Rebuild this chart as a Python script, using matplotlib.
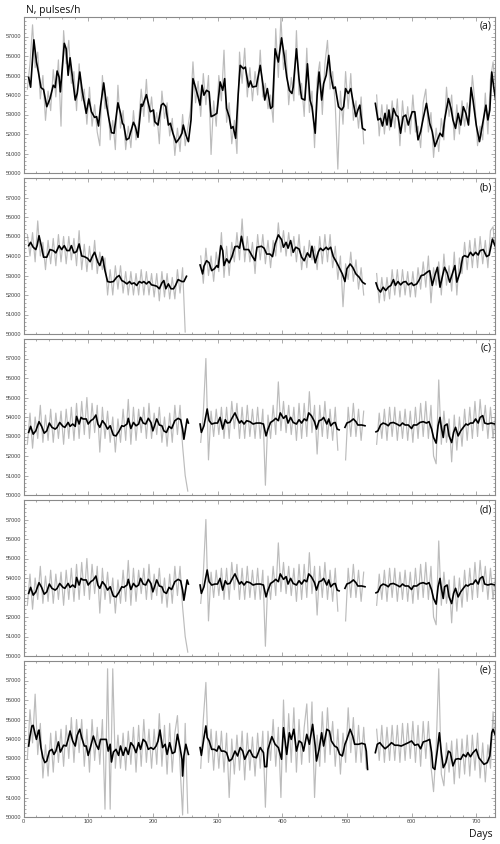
#!/usr/bin/env python3
"""
Neutron monitor count rate, five stacked panels (a)-(e).

Gray = daily values, black = smoothed curve. Values read off the figure.
"""

import numpy as np
import matplotlib
matplotlib.use('Agg')
import matplotlib.pyplot as plt
from matplotlib.ticker import MultipleLocator

plt.rcParams['font.family'] = ['Liberation Sans', 'DejaVu Sans']

# day grid of the gray (raw) curves, one reading every 4 days
GRAY_DAYS = np.arange(6, 731, 4)

# ---- panel (a) ----
A_GRAY = [
    54300, 55600, 57600, 55400, 56200, 53800, 55000, 52700, 54200, 53200,
    55300, 53900, 55800, 52400, 57300, 55600, 56800, 54600, 55200, 53200,
    55600, 53700, 54300, 52500, 54400, 52400, 53500, 52100, 51400, 55000,
    53300, 53900, 51700, 52700, 51200, 54500, 52300, 53200, 51200, 52400,
    51300, 53200, 51700, 52600, 54300, 52900, 54800, 52600, 53900, 52400,
    53100, 51500, 54200, 52800, 53600, 51900, 52800, 50900, 52300, 51100,
    53000, 51400, 52300, 53200, 55700, 53600, 54700, 52900, 55100, 53500,
    55000, 50950, 53700, 52400, 55000, 53700, 56300, 52600, 53600, 51500,
    52700, 51000, 56200, 54600, 56400, 53900, 55400, 53700, 55200, 54000,
    56300, 53900, 54600, 53300, 54000, 52600, 57400, 54900, 58000, 55300,
    56300, 53500, 54900, 53700, 57300, 54000, 54600, 52900, 56400, 53100,
    54200, 51300, 54800, 55700, 53000, 55600, 56800, 54300, 55200, 53500,
    50200, 54200, 52500, 55200, 53300, 55100, 52700, 53700, 52300, 53900,
    51500, None, None, None, None, 54000, 51900, 53500, 52000, 53500,
    52200, 53700, 52300, 53800, 51400, 53700, 52100, 53400, 52000, 54000,
    52100, 52400, 51300, 53600, 54300, 52100, 53100, 50800, 52300, 51100,
    52800, 51700, 54400, 52900, 54000, 51700, 53500, 52000, 53700, 52400,
    53600, 52900, 55000, 53600, 51400, 52400, 51700, 54100, 52000, 54800,
    55700, 54300,
]
A_SMOOTH = [
    (8, 54900), (11, 54400), (16, 56830), (20, 55700), (23, 55180), (27, 54380), (31, 54280), (36, 53400), (41, 53820), (46, 54500),
    (49, 54380), (52, 55230), (55, 54920), (57, 54160), (63, 56650), (66, 56370), (69, 55010), (72, 55910), (76, 54840), (80, 53740),
    (83, 54080), (87, 55180), (91, 54160), (97, 53060), (101, 53800), (105, 53140), (110, 52850), (113, 52890), (116, 52410), (119, 53400),
    (124, 54620), (128, 53570), (131, 52970), (136, 52070), (140, 52040), (146, 53600), (150, 53060), (153, 52550), (155, 52460), (159, 51700),
    (163, 51780), (170, 52600), (173, 52380), (177, 51830), (182, 53530), (184, 53430), (190, 54020), (196, 53140), (201, 53230), (203, 52630),
    (208, 52460), (213, 53480), (216, 53570), (220, 53400), (224, 52460), (227, 52550), (231, 52040), (236, 51560), (241, 51780), (245, 52040),
    (247, 52460), (251, 51950), (255, 51610), (259, 52720), (262, 54840), (265, 54500), (270, 53900), (273, 53480), (276, 54500), (279, 53990),
    (283, 54240), (287, 54160), (290, 52890), (295, 52970), (299, 53060), (304, 54670), (308, 54240), (311, 54840), (314, 53310), (318, 52890),
    (321, 52290), (324, 52380), (328, 51780), (332, 54080), (335, 55520), (340, 55350), (343, 55430), (348, 54410), (351, 54720), (354, 54410),
    (360, 54450), (366, 55520), (370, 54580), (373, 53740), (377, 54330), (382, 53310), (385, 53400), (389, 56370), (394, 55690), (399, 56930),
    (403, 56030), (407, 54920), (411, 54240), (415, 54080), (417, 54410), (422, 56370), (426, 54840), (430, 53820), (435, 53740), (439, 55600),
    (443, 53740), (446, 53400), (451, 52040), (454, 53990), (457, 55180), (461, 53740), (464, 54580), (468, 55010), (472, 56030), (475, 55010),
    (479, 54330), (482, 54410), (487, 53400), (492, 53230), (495, 53400), (498, 54330), (502, 54080), (506, 54330), (510, 53570), (514, 52890),
    (517, 53230), (520, 53480), (524, 52290), (528, 52210), (536, None),
    (544, 53570), (548, 52720), (552, 52800), (555, 52410), (559, 53060), (562, 52460), (565, 53230), (568, 52380), (572, 53310), (576, 52970),
    (579, 52890), (583, 52040), (587, 52890), (591, 52970), (595, 52460), (597, 52720), (601, 53140), (605, 53140), (610, 51700), (614, 52120),
    (618, 52800), (623, 53570), (628, 52550), (632, 52120), (636, 51360), (640, 51700), (644, 52040), (648, 51870), (651, 52720), (657, 53820),
    (661, 53310), (664, 52720), (668, 52290), (672, 53060), (676, 52460), (680, 53400), (684, 53060), (688, 52460), (692, 54380), (695, 53740),
    (700, 52460), (705, 51610), (710, 52550), (715, 53480), (718, 52720), (721, 53230), (724, 55180), (727, 54410), (730, 53740),
]

# ---- panel (b) ----
B_GRAY = [
    55100, 54000, 55200, 53700, 55800, 54000, 54700, 53300, 54800, 53600,
    54900, 53500, 55100, 53700, 55000, 53600, 55000, 53800, 54900, 53500,
    55300, 53300, 54600, 53200, 54500, 53300, 54800, 53100, 54200, 53300,
    53900, 52000, 53300, 52000, 53500, 52300, 53500, 52100, 53200, 52000,
    53200, 52000, 53100, 52000, 53300, 52000, 53200, 52000, 53100, 51900,
    53100, 51700, 53200, 51900, 53100, 51800, 52900, 51800, 53300, 52100,
    53400, 50100, None, None, None, None, None, 54000, 52600, 54400,
    53000, 54000, 52700, 54200, 53200, 55200, 52900, 54500, 53000, 54700,
    53700, 55200, 53800, 55900, 53700, 55000, 53700, 54700, 53100, 55100,
    53800, 55100, 53600, 54800, 53400, 54800, 54000, 55700, 54200, 55300,
    54000, 55200, 54000, 55000, 53700, 55100, 53300, 54500, 53400, 54800,
    53800, 54500, 53300, 55000, 53600, 55100, 53700, 55100, 53400, 54500,
    52800, 54000, 51400, 53600, 52800, 54200, 52700, 53800, 52300, 53400,
    52000, None, None, None, None, 53100, 51600, 52900, 51700, 52900,
    51800, 53300, 52000, 53300, 51900, 53300, 52000, 53200, 51900, 53200,
    51900, 53400, 52300, 53700, 52400, 54000, 51600, 53400, 52500, 53700,
    52000, 54100, 52500, 53500, 52200, 54200, 52000, 53900, 53100, 54700,
    53300, 54800, 53400, 54900, 53400, 55000, 53600, 54800, 53400, 55300,
    55500, 54000,
]
B_SMOOTH = [
    (8, 54530), (11, 54700), (15, 54450), (19, 54330), (21, 54530), (24, 55040), (28, 54450), (31, 53940), (36, 53940), (41, 54330),
    (46, 54280), (50, 54160), (55, 54530), (59, 54330), (63, 54530), (67, 54280), (71, 54280), (74, 54530), (78, 54160), (82, 54220),
    (86, 54620), (90, 54000), (94, 53970), (99, 53880), (103, 53710), (107, 54020), (110, 54190), (115, 53680), (118, 53510), (122, 53970),
    (126, 53250), (130, 52690), (134, 52660), (139, 52690), (144, 52910), (148, 53000), (152, 52740), (155, 52690), (160, 52570), (164, 52690),
    (167, 52570), (171, 52620), (175, 52490), (179, 52690), (183, 52620), (186, 52690), (190, 52570), (194, 52690), (198, 52520), (202, 52490),
    (206, 52450), (210, 52320), (214, 52620), (217, 52740), (220, 52320), (224, 52570), (228, 52320), (232, 52320), (235, 52490), (239, 52790),
    (245, 52690), (248, 52690), (252, 52960), (262, None),
    (273, 53540), (277, 53080), (279, 53480), (283, 53760), (287, 53650), (291, 53250), (295, 53340), (299, 53510), (301, 53420), (305, 54530),
    (308, 54280), (310, 53510), (314, 53850), (318, 53650), (322, 53940), (327, 54480), (331, 54500), (334, 54400), (337, 55010), (341, 54330),
    (348, 54330), (354, 53970), (358, 53760), (361, 54450), (368, 54500), (372, 54400), (376, 54100), (381, 54100), (385, 53970), (389, 54620),
    (394, 55080), (399, 54840), (402, 54450), (406, 54700), (409, 54400), (413, 54790), (417, 54190), (421, 54450), (426, 54360), (430, 53940),
    (434, 53760), (439, 54160), (443, 53940), (446, 54500), (451, 53650), (456, 54220), (459, 54400), (463, 54280), (468, 54450), (471, 54330),
    (475, 54450), (479, 53970), (484, 53680), (489, 53340), (493, 53080), (497, 52690), (500, 53340), (505, 53590), (509, 53420), (514, 53080),
    (519, 52910), (524, 52660), (528, 52570), (536, None),
    (545, 52620), (548, 52320), (552, 52150), (556, 52400), (560, 52230), (564, 52400), (568, 52490), (572, 52790), (575, 52490), (579, 52690),
    (583, 52520), (587, 52660), (591, 52690), (595, 52520), (600, 52620), (603, 52490), (608, 52570), (612, 52790), (615, 53000), (619, 53030),
    (624, 53170), (628, 53250), (632, 52490), (636, 53000), (640, 53420), (644, 52400), (648, 53000), (651, 53420), (655, 53130), (659, 52660),
    (663, 53080), (667, 53510), (670, 52660), (675, 53170), (679, 53940), (682, 54020), (687, 53940), (691, 54190), (695, 54020), (699, 54190),
    (703, 54050), (706, 54280), (711, 54330), (716, 53970), (720, 54050), (725, 54870), (729, 54530),
]

# ---- panel (c) ----
C_GRAY = [
    52600, 54200, 52400, 54000, 52900, 54600, 52700, 54100, 52800, 54400,
    52700, 54200, 52900, 54300, 52600, 54400, 52900, 54500, 52800, 54700,
    52900, 54800, 53100, 55000, 52900, 54700, 53200, 54600, 52200, 54500,
    52900, 54300, 52700, 54000, 52200, 53900, 52700, 54400, 52800, 54900,
    52600, 54500, 52800, 54400, 53200, 54500, 52900, 54700, 52900, 54200,
    53100, 54500, 52700, 54000, 52500, 54200, 52700, 54600, 53100, 54600,
    52500, 51000, 50200, None, None, None, None, 52700, 54200, 57000,
    51800, 54300, 53000, 54400, 53100, 54500, 52900, 54500, 52900, 54800,
    53400, 54700, 52900, 54500, 52900, 54600, 53000, 54400, 52900, 54500,
    52900, 54400, 50500, 54100, 52900, 54600, 53100, 55800, 53300, 54800,
    53200, 54600, 53100, 54500, 52800, 54700, 52900, 54700, 53000, 55300,
    53200, 54600, 52100, 54600, 53000, 54800, 52900, 54400, 52800, 54500,
    52300, None, None, 51800, 54500, 53000, 54700, 53000, 54400, 52800,
    54300, None, None, None, None, 52600, 54200, 52900, 54400, 52800,
    54500, 53000, 54500, 52800, 54300, 52900, 54400, 52800, 54300, 52700,
    54500, 52900, 54700, 53000, 54800, 52900, 54600, 52000, 51600, 55900,
    52600, 54300, 52700, 53900, 51700, 54100, 52300, 54000, 52500, 54400,
    52800, 54500, 52900, 54800, 53000, 54900, 53300, 54600, 52900, 54500,
    52900, 54200,
]
C_SMOOTH = [
    (8, 53210), (11, 53520), (15, 53120), (19, 53290), (24, 53760), (28, 53520), (32, 53170), (36, 53290), (40, 53690), (44, 53470),
    (49, 53380), (52, 53470), (56, 53720), (61, 53520), (64, 53470), (69, 53720), (72, 53520), (76, 53640), (80, 53520), (82, 54030),
    (86, 53640), (89, 53980), (92, 53900), (97, 53900), (100, 53640), (104, 53810), (108, 53900), (112, 54100), (115, 53640), (118, 53470),
    (122, 53810), (126, 53640), (130, 53380), (134, 53550), (139, 53070), (143, 53030), (148, 53290), (152, 53550), (155, 53520), (160, 53640),
    (162, 53930), (166, 53410), (170, 53720), (174, 53550), (178, 53640), (181, 53980), (185, 53690), (189, 53640), (193, 53930), (197, 53720),
    (200, 53290), (203, 53590), (206, 53900), (210, 53590), (214, 53550), (217, 53290), (221, 53210), (225, 53520), (229, 53410), (234, 53810),
    (239, 53930), (243, 53860), (246, 53380), (248, 52860), (251, 53470), (253, 53900), (255, 53690), (264, None),
    (273, 53640), (275, 53210), (279, 53550), (282, 54070), (284, 54410), (287, 53810), (291, 53640), (296, 53690), (300, 53690), (304, 53980),
    (308, 53380), (312, 53860), (315, 53690), (319, 53720), (323, 53980), (327, 54210), (331, 53900), (334, 53690), (337, 53810), (341, 53640),
    (345, 53810), (350, 53760), (355, 53640), (360, 53690), (366, 53690), (371, 53640), (375, 53030), (378, 53380), (382, 53720), (386, 53810),
    (390, 53930), (394, 53810), (397, 54210), (402, 53930), (406, 54070), (409, 53690), (413, 53980), (417, 53720), (422, 53640), (426, 53860),
    (430, 53690), (434, 53900), (438, 53810), (441, 54210), (445, 54070), (450, 53760), (453, 53380), (457, 53810), (461, 53860), (464, 53980),
    (469, 53640), (472, 53900), (475, 53550), (479, 53690), (482, 53720), (485, 53380), (488, 53340), (492, None),
    (497, 53470), (500, 53690), (505, 53760), (510, 53900), (514, 53760), (517, 53590), (523, 53590), (528, 53550), (536, None),
    (545, 53240), (548, 53290), (552, 53590), (556, 53690), (560, 53640), (564, 53550), (567, 53690), (572, 53720), (577, 53640), (582, 53550),
    (586, 53690), (590, 53590), (595, 53590), (600, 53410), (603, 53590), (608, 53590), (613, 53720), (618, 53760), (623, 53690), (627, 53760),
    (631, 53380), (634, 52950), (638, 52660), (641, 53550), (644, 53980), (646, 53470), (649, 52950), (651, 53550), (655, 53640), (658, 53030),
    (662, 52690), (665, 53210), (668, 53470), (672, 53030), (676, 53290), (680, 53470), (684, 53640), (687, 53590), (691, 53690), (695, 53690),
    (699, 53900), (703, 53690), (706, 53980), (710, 54070), (713, 53690), (718, 53640), (723, 53690), (729, 53640),
]

# ---- panel (d): reads the same as (c) at this resolution ----
D_GRAY = C_GRAY
D_SMOOTH = C_SMOOTH

# ---- panel (e) ----
E_GRAY = [
    53000, 55500, 53800, 56300, 53200, 54800, 52000, 53700, 52100, 54300,
    52300, 54400, 52800, 54500, 52600, 54700, 53000, 55100, 52800, 55000,
    53300, 55000, 52600, 54500, 52300, 55000, 52900, 54600, 52700, 55000,
    50400, 57600, 50400, 57600, 52500, 54200, 52500, 54300, 52400, 54400,
    52700, 54600, 52300, 54700, 52600, 55000, 52800, 54500, 52500, 54500,
    52700, 55300, 52600, 54700, 52200, 54800, 52300, 54300, 55200, 52600,
    50100, 54800, 50200, None, None, None, None, 52500, 55000, 56900,
    52800, 54500, 52400, 54400, 52500, 54400, 52300, 54300, 51000, 54000,
    52200, 54200, 52400, 54400, 51900, 54300, 52400, 54100, 52100, 54300,
    52500, 54400, 50500, 54400, 52900, 55000, 52600, 54600, 51000, 56000,
    52300, 55300, 52800, 55600, 52300, 55000, 52700, 54600, 55800, 52800,
    55900, 51000, 54200, 52600, 55400, 52800, 55600, 53200, 54900, 52600,
    54500, 52200, 54300, 52800, 55600, 53300, 55100, 52800, 54700, 52800,
    54600, 52500, None, None, None, 54500, 52900, 54700, 52800, 54600,
    52900, 54700, 52900, 54700, 52800, 54800, 52900, 54800, 53000, 54900,
    52800, 54700, 52600, 54900, 53000, 54900, 52600, 51300, 53500, 57600,
    52200, 51600, 53800, 52300, 53900, 51700, 54000, 52000, 54000, 52200,
    54200, 52100, 54200, 52400, 54300, 52000, 53800, 51800, 53700, 52500,
    55400, 53500,
]
E_SMOOTH = [
    (8, 53640), (10, 54150), (13, 54670), (15, 54700), (18, 54240), (20, 53980), (23, 54410), (24, 54460), (27, 53560), (30, 53040),
    (33, 52790), (36, 52870), (40, 53380), (44, 53470), (47, 53210), (50, 53380), (54, 53850), (57, 53330), (62, 53680), (66, 53640),
    (69, 53980), (72, 54410), (76, 53900), (80, 53640), (83, 54190), (87, 54500), (90, 54070), (94, 53640), (97, 53640), (100, 53160),
    (104, 53640), (108, 54150), (112, 53730), (116, 53470), (119, 53980), (123, 53980), (128, 53980), (131, 53380), (134, 53730), (136, 52820),
    (139, 53330), (143, 53470), (147, 53160), (150, 53640), (154, 53160), (158, 53560), (162, 53210), (166, 53810), (170, 53640), (174, 53300),
    (178, 53810), (181, 53470), (185, 53980), (189, 53850), (193, 53470), (197, 53560), (201, 53470), (205, 53640), (208, 53900), (211, 54460),
    (215, 53560), (219, 53730), (222, 53210), (226, 53810), (230, 53260), (234, 53330), (238, 54240), (242, 53560), (245, 52960), (246, 52100),
    (248, 53130), (251, 53730), (255, 53210), (264, None),
    (273, 53560), (275, 53160), (279, 54070), (282, 54670), (284, 54070), (287, 53900), (291, 53470), (295, 53470), (299, 53380), (302, 53640),
    (306, 53380), (310, 53380), (314, 53300), (318, 52870), (322, 52960), (327, 53380), (331, 53130), (335, 53560), (339, 53380), (342, 52960),
    (348, 53380), (350, 53430), (355, 53090), (360, 53040), (366, 53560), (371, 53300), (373, 52580), (376, 52580), (378, 53470), (384, 54120),
    (389, 53730), (394, 53560), (399, 52960), (402, 54580), (407, 53210), (411, 54320), (414, 53980), (418, 54500), (422, 53380), (426, 53900),
    (430, 53810), (433, 53380), (438, 54240), (442, 53730), (447, 54750), (451, 53640), (453, 52870), (457, 53470), (461, 54320), (464, 53640),
    (469, 54500), (473, 54410), (476, 53900), (481, 53640), (485, 53560), (489, 53210), (493, 53130), (497, 53730), (500, 53980), (505, 54500),
    (509, 54150), (512, 53730), (518, 53730), (523, 53780), (528, 53730), (530, 53380), (532, 52440), (538, None),
    (544, 53300), (547, 53730), (551, 53810), (555, 53640), (559, 53500), (564, 53640), (569, 53810), (574, 53680), (579, 53680), (584, 53640),
    (590, 53730), (595, 53810), (600, 53900), (605, 53680), (610, 53730), (614, 53500), (618, 53850), (623, 53900), (628, 53980), (631, 53300),
    (633, 52530), (636, 52440), (640, 53470), (643, 54320), (646, 53300), (649, 52530), (653, 52790), (657, 53380), (660, 53300), (664, 52620),
    (668, 52960), (672, 52990), (676, 52960), (680, 53210), (684, 53090), (687, 53300), (691, 53090), (695, 53300), (700, 53470), (704, 53040),
    (708, 52870), (712, 52700), (717, 52790), (721, 53130), (724, 54320), (726, 54500), (729, 54240),
]

PANEL_LABELS = ['(a)', '(b)', '(c)', '(d)', '(e)']
PANEL_GRAY = [A_GRAY, B_GRAY, C_GRAY, D_GRAY, E_GRAY]
PANEL_SMOOTH = [A_SMOOTH, B_SMOOTH, C_SMOOTH, D_SMOOTH, E_SMOOTH]

Y_TICKS = [50000, 51000, 52000, 53000, 54000, 55000, 56000, 57000]
X_TICKS = [0, 100, 200, 300, 400, 500, 600, 700]

W, H = 500, 844
fig = plt.figure(figsize=(W / 100, H / 100), dpi=100)
fig.patch.set_facecolor('white')

left = 23.5 / W
width = (495 - 23.5) / W
panel_h = 156
step = 161

for i, lab in enumerate(PANEL_LABELS):
    top = 17 + i * step
    ax = fig.add_axes([left, 1 - (top + panel_h) / H, width, panel_h / H])

    gray = np.array(PANEL_GRAY[i], dtype=float)
    ax.plot(GRAY_DAYS, gray, color='#bcbcbc', lw=0.85, zorder=1)

    sm = np.array(PANEL_SMOOTH[i], dtype=float)
    ax.plot(sm[:, 0], sm[:, 1], color='black', lw=1.2, zorder=2)

    ax.set_xlim(0, 729)
    ax.set_ylim(50000, 58000)
    ax.set_yticks(Y_TICKS)
    ax.set_xticks(X_TICKS)
    ax.xaxis.set_minor_locator(MultipleLocator(20))
    ax.yaxis.set_minor_locator(MultipleLocator(200))
    ax.tick_params(which='both', direction='in', top=True, right=True,
                   color='#8a8a8a', width=0.5, labelsize=4,
                   labelcolor='#444444', pad=1.5)
    ax.tick_params(which='major', length=3)
    ax.tick_params(which='minor', length=1.5)
    if i < len(PANEL_LABELS) - 1:
        ax.tick_params(labelbottom=False)
    for sp in ax.spines.values():
        sp.set_color('#8a8a8a')
        sp.set_linewidth(0.8)

    fig.text(492 / W, 1 - (top + 4) / H, lab, ha='right', va='top',
             fontsize=7.5, family=['Open Sans', 'DejaVu Sans'], color='#111111')

fig.text(26.5 / W, 1 - 13 / H, 'N, pulses/h', ha='left', va='baseline',
         fontsize=7.5, family=['Open Sans', 'DejaVu Sans'], color='#111111')
fig.text(493 / W, 1 - 837 / H, 'Days', ha='right', va='baseline',
         fontsize=7.5, family=['Open Sans', 'DejaVu Sans'], color='#111111')

fig.savefig('out.png', dpi=100, facecolor='white')
